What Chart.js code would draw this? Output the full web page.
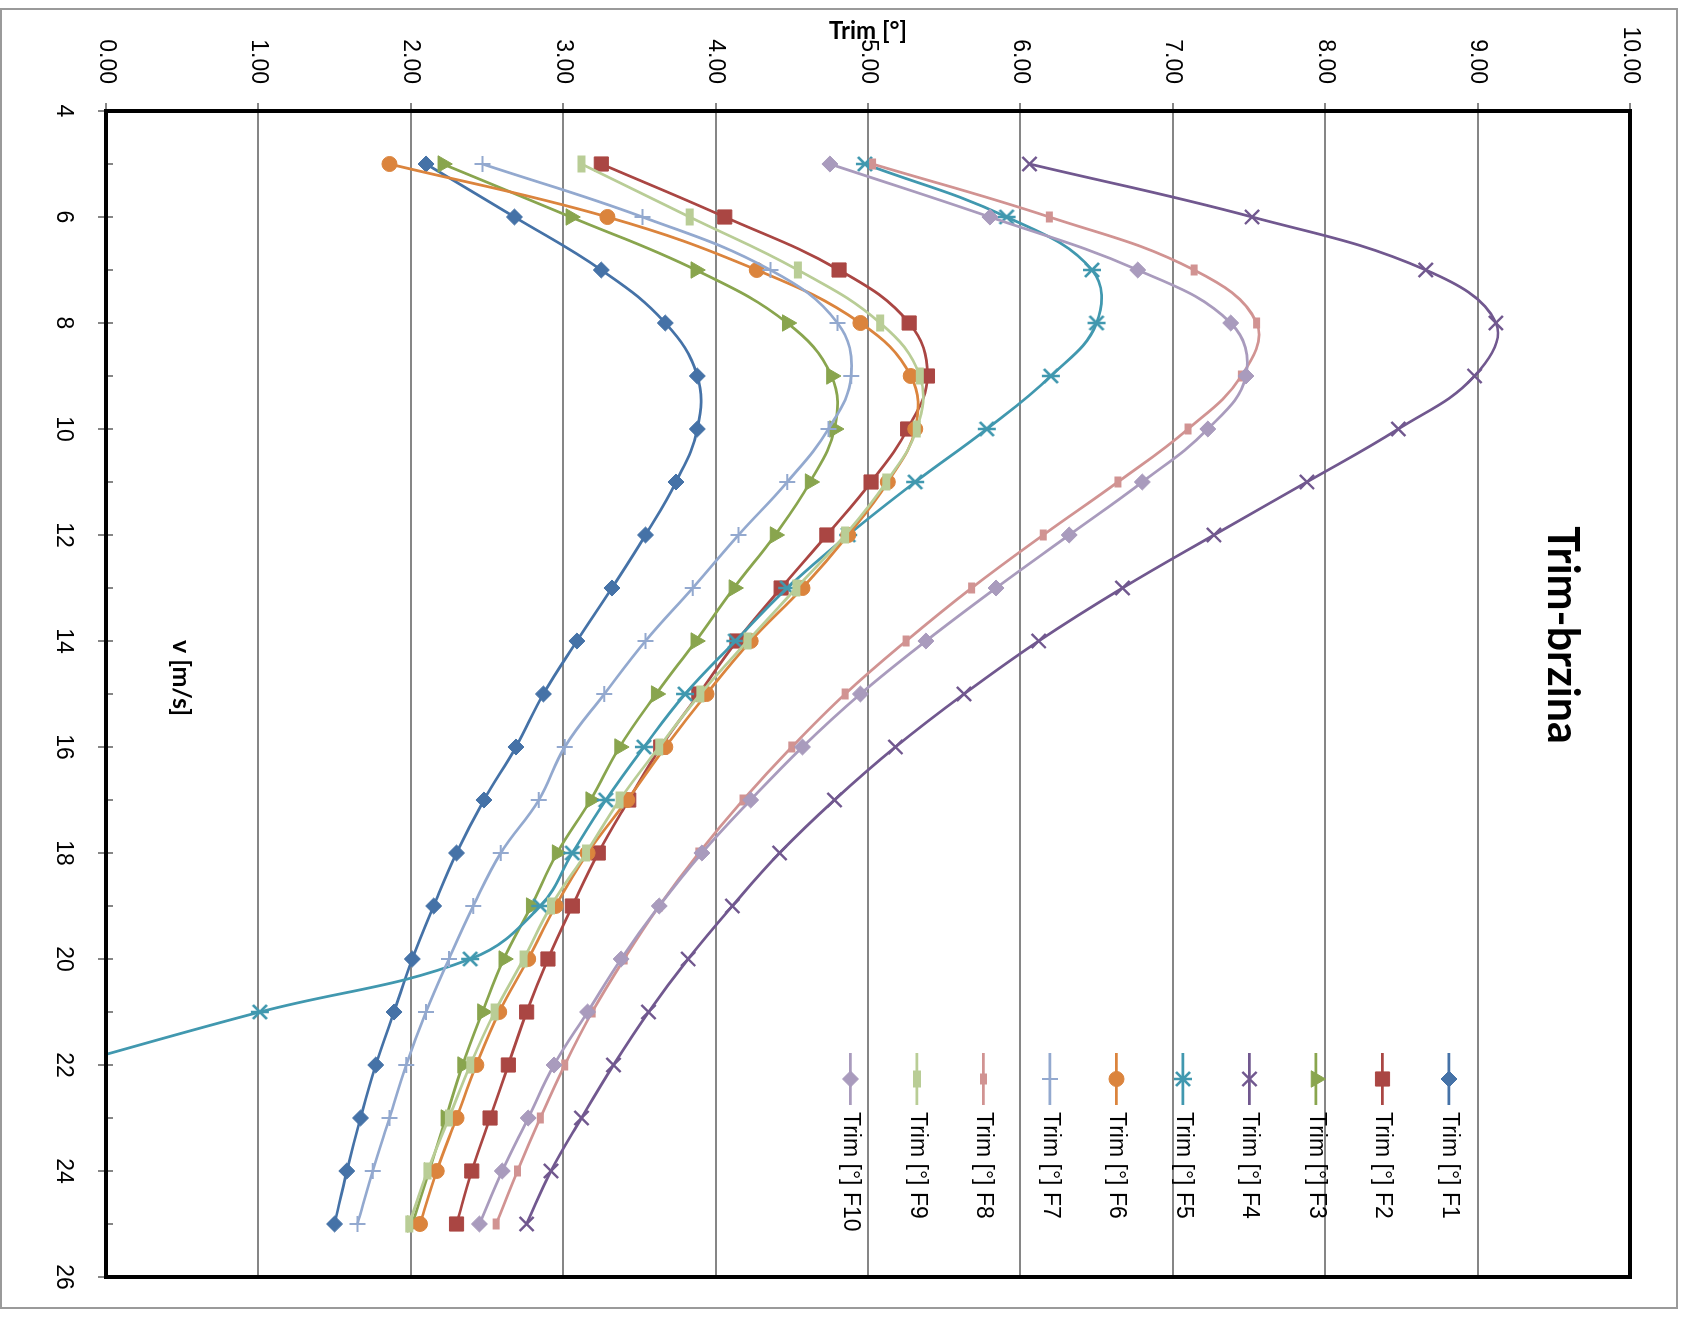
<!DOCTYPE html>
<html>
<head>
<meta charset="utf-8">
<script src="https://cdn.jsdelivr.net/npm/chart.js@4.4.1/dist/chart.umd.min.js"></script>
<style>
  html, body { margin: 0; padding: 0; background: #fff; }
  body { width: 1686px; height: 1318px; overflow: hidden; position: relative; }
  /* the chart is drawn upright and then turned a quarter clockwise, like the reference */
  #turn {
    position: absolute; left: 0; top: 0;
    width: 1318px; height: 1686px;
    transform-origin: 0 0;
    transform: translate(1686px, 0) rotate(90deg);
  }
</style>
</head>
<body>
<div id="turn"><canvas id="chart" width="1318" height="1686"></canvas></div>
<script>
const SPEED = [5, 6, 7, 8, 9, 10, 11, 12, 13, 14, 15, 16, 17, 18, 19, 20, 21, 22, 23, 24, 25];

const TRIM_F1 = [2.10, 2.68, 3.25, 3.67, 3.88, 3.88, 3.74, 3.54, 3.32, 3.09, 2.87, 2.69, 2.48, 2.30, 2.15, 2.01, 1.89, 1.77, 1.67, 1.58, 1.50];
const TRIM_F2 = [3.25, 4.06, 4.81, 5.27, 5.39, 5.26, 5.02, 4.73, 4.43, 4.14, 3.89, 3.64, 3.43, 3.23, 3.06, 2.90, 2.76, 2.64, 2.52, 2.40, 2.30];
const TRIM_F3 = [2.21, 3.05, 3.87, 4.47, 4.76, 4.78, 4.62, 4.39, 4.12, 3.87, 3.61, 3.37, 3.18, 2.96, 2.79, 2.61, 2.47, 2.34, 2.23, 2.12, 2.01];
const TRIM_F4 = [6.06, 7.52, 8.66, 9.12, 8.98, 8.48, 7.88, 7.27, 6.67, 6.12, 5.63, 5.18, 4.78, 4.42, 4.11, 3.82, 3.56, 3.33, 3.12, 2.92, 2.76];
const TRIM_F5 = [4.98, 5.91, 6.47, 6.50, 6.20, 5.78, 5.31, 4.87, 4.47, 4.13, 3.80, 3.53, 3.28, 3.06, 2.85, 2.39, 1.01, -0.25, null, null, null];
const TRIM_F6 = [1.86, 3.29, 4.27, 4.95, 5.28, 5.31, 5.13, 4.87, 4.57, 4.23, 3.94, 3.67, 3.42, 3.16, 2.95, 2.77, 2.58, 2.43, 2.30, 2.17, 2.06];
const TRIM_F7 = [2.47, 3.52, 4.36, 4.80, 4.89, 4.74, 4.47, 4.15, 3.85, 3.54, 3.27, 3.01, 2.84, 2.59, 2.41, 2.25, 2.10, 1.97, 1.86, 1.75, 1.65];
const TRIM_F8 = [5.03, 6.19, 7.14, 7.55, 7.45, 7.10, 6.64, 6.15, 5.68, 5.25, 4.85, 4.50, 4.18, 3.89, 3.63, 3.40, 3.19, 3.01, 2.85, 2.70, 2.56];
const TRIM_F9 = [3.12, 3.83, 4.54, 5.08, 5.34, 5.32, 5.12, 4.85, 4.53, 4.21, 3.90, 3.63, 3.37, 3.15, 2.92, 2.74, 2.55, 2.39, 2.25, 2.11, 1.99];
const TRIM_F10 = [4.75, 5.80, 6.77, 7.38, 7.48, 7.23, 6.80, 6.32, 5.84, 5.38, 4.95, 4.57, 4.23, 3.91, 3.63, 3.38, 3.16, 2.94, 2.77, 2.60, 2.45];

const SERIES_NAMES = ['Trim [°] F1', 'Trim [°] F2', 'Trim [°] F3', 'Trim [°] F4', 'Trim [°] F5',
  'Trim [°] F6', 'Trim [°] F7', 'Trim [°] F8', 'Trim [°] F9', 'Trim [°] F10'];
const SERIES_VALUES = [TRIM_F1, TRIM_F2, TRIM_F3, TRIM_F4, TRIM_F5, TRIM_F6, TRIM_F7, TRIM_F8, TRIM_F9, TRIM_F10];

const CHART_TITLE = 'Trim-brzina';
const TRIM_TITLE = 'Trim [°]';
const SPEED_TITLE = 'v [m/s]';

const COLORS = ['#4572A7', '#AA4643', '#89A54E', '#71588F', '#4198AF', '#DB843D', '#93A9CF', '#D19392', '#B9CD96', '#A99BBD'];

// excel "star" marker: an x with a bar through it
function starMarker(color) {
  const c = document.createElement('canvas');
  c.width = 20;
  c.height = 20;
  const g = c.getContext('2d');
  g.strokeStyle = color;
  g.lineWidth = 2.5;
  g.beginPath();
  g.moveTo(3, 3); g.lineTo(17, 17);
  g.moveTo(17, 3); g.lineTo(3, 17);
  g.moveTo(10, 1); g.lineTo(10, 19);
  g.stroke();
  return c;
}

const MARKERS = [
  { pointStyle: 'rectRot', radius: 8, border: 1 },
  { pointStyle: 'rect', radius: 10, border: 1 },
  { pointStyle: 'triangle', radius: 9.5, border: 1 },
  { pointStyle: 'crossRot', radius: 10, border: 2.4 },
  { pointStyle: starMarker(COLORS[4]), radius: 10, border: 0 },
  { pointStyle: 'circle', radius: 7.5, border: 1 },
  { pointStyle: 'cross', radius: 8, border: 2 },
  { pointStyle: 'line', radius: 5.5, border: 7 },
  { pointStyle: 'line', radius: 8.5, border: 8 },
  { pointStyle: 'rectRot', radius: 8, border: 1 },
];

const TICK_FONT = { family: 'Liberation Sans', size: 23 };

const decor = {
  id: 'decor',
  beforeDraw(chart) {
    const ctx = chart.ctx;
    ctx.save();
    ctx.fillStyle = '#fff';
    ctx.fillRect(0, 0, chart.width, chart.height);
    ctx.strokeStyle = '#9a9a9a';
    ctx.lineWidth = 2;
    ctx.strokeRect(9, 9, 1299, 1676);
    ctx.restore();
  },
  afterDatasetsDraw(chart) {
    const { ctx, chartArea: a } = chart;
    const x = chart.scales.x;
    ctx.save();

    // inner tick marks on the speed axis (majors cross, minors only inside)
    ctx.strokeStyle = '#868686';
    ctx.lineWidth = 2;
    for (let v = 5; v <= 25; v++) {
      const px = x.getPixelForValue(v);
      ctx.beginPath();
      ctx.moveTo(px, a.bottom);
      ctx.lineTo(px, a.bottom - 7);
      ctx.stroke();
    }

    ctx.strokeStyle = '#000';
    ctx.lineWidth = 4;
    ctx.strokeRect(a.left, a.top, a.right - a.left, a.bottom - a.top);

    ctx.fillStyle = '#000';
    ctx.textAlign = 'center';
    ctx.textBaseline = 'alphabetic';
    ctx.font = 'bold 43px Lato';
    ctx.fillText(CHART_TITLE, 635, 138);

    ctx.textBaseline = 'middle';
    ctx.font = 'bold 25px Lato';
    ctx.fillText(SPEED_TITLE, 678, 1505);

    ctx.save();
    ctx.translate(31, (a.top + a.bottom) / 2);
    ctx.rotate(-Math.PI / 2);
    ctx.font = 'bold 24px Lato';
    ctx.fillText(TRIM_TITLE, 0, 0);
    ctx.restore();

    // legend, stacked inside the plot area
    chart.data.datasets.forEach((ds, i) => {
      const y = 237 + i * 66.5;
      ctx.strokeStyle = ds.borderColor;
      ctx.lineWidth = ds.borderWidth;
      ctx.beginPath();
      ctx.moveTo(1053, y);
      ctx.lineTo(1105, y);
      ctx.stroke();
      ctx.fillStyle = ds.pointBackgroundColor;
      ctx.strokeStyle = ds.pointBorderColor;
      ctx.lineWidth = ds.pointBorderWidth;
      Chart.helpers.drawPoint(ctx, {
        pointStyle: ds.pointStyle,
        radius: ds.pointRadius,
        borderWidth: ds.pointBorderWidth,
        rotation: 0,
      }, 1079, y);
      ctx.fillStyle = '#000';
      ctx.textAlign = 'left';
      ctx.textBaseline = 'middle';
      ctx.font = '23px "Liberation Sans"';
      ctx.fillText(ds.label, 1112, y);
    });

    ctx.restore();
  },
};

function build() {
  const datasets = SERIES_VALUES.map((vals, i) => ({
    label: SERIES_NAMES[i],
    data: SPEED.map((v, j) => ({ x: v, y: vals[j] })),
    borderColor: COLORS[i],
    backgroundColor: COLORS[i],
    borderWidth: 2.75,
    tension: 0.4,
    pointStyle: MARKERS[i].pointStyle,
    pointRadius: MARKERS[i].radius,
    pointBorderWidth: MARKERS[i].border,
    pointBackgroundColor: COLORS[i],
    pointBorderColor: COLORS[i],
    order: SERIES_VALUES.length - i,
  }));

  // eslint-disable-next-line no-new
  new Chart(document.getElementById('chart').getContext('2d'), {
    type: 'line',
    data: { datasets },
    plugins: [decor],
    options: {
      responsive: false,
      animation: false,
      devicePixelRatio: 1,
      layout: { padding: { top: 56, right: 41, left: 0, bottom: 0 } },
      plugins: { legend: { display: false }, tooltip: { enabled: false }, title: { display: false } },
      scales: {
        x: {
          type: 'linear',
          position: 'bottom',
          min: 4,
          max: 26,
          afterFit: (s) => { s.height = 106; },
          border: { display: false },
          grid: { drawOnChartArea: false, drawTicks: true, tickLength: 8, color: '#868686', lineWidth: 2 },
          ticks: { stepSize: 2, autoSkip: false, maxRotation: 0, padding: 21, color: '#000', font: TICK_FONT },
        },
        y: {
          min: 0,
          max: 10,
          afterFit: (s) => { s.width = 111; },
          border: { display: false },
          grid: { color: '#868686', lineWidth: 2, tickLength: 8 },
          ticks: { stepSize: 1, padding: 19, color: '#000', font: TICK_FONT, callback: (v) => v.toFixed(2) },
        },
      },
    },
  });
}

Promise.all([
  document.fonts.load('bold 42px Lato'),
  document.fonts.load('23px "Liberation Sans"'),
]).then(build, build);
</script>
</body>
</html>
